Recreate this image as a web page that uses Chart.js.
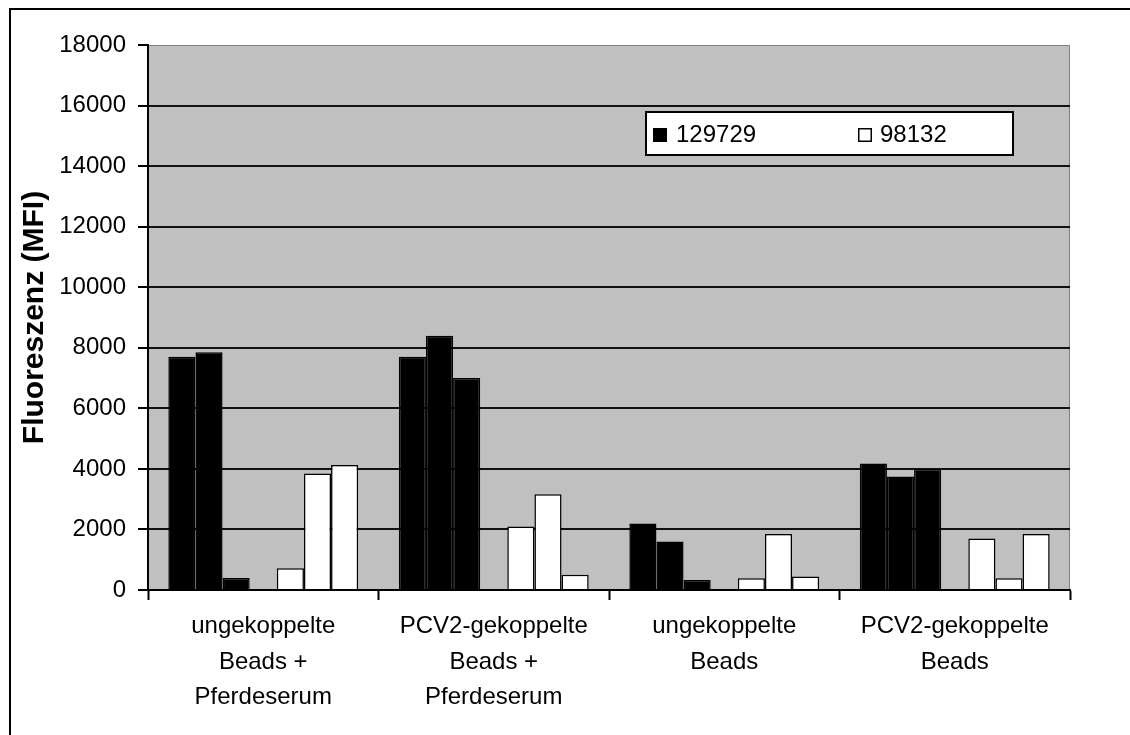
<!DOCTYPE html>
<html>
<head>
<meta charset="utf-8">
<title>Fluoreszenz (MFI)</title>
<script src="https://cdn.jsdelivr.net/npm/chart.js@4.4.1/dist/chart.umd.min.js"></script>
<style>
  html, body { margin: 0; padding: 0; background: #ffffff; }
  canvas { display: block; }
</style>
</head>
<body>
<canvas id="c" width="1130" height="735"></canvas>
<script>
// Categories (multi-line axis labels)
const categories = [
  ['ungekoppelte', 'Beads +', 'Pferdeserum'],
  ['PCV2-gekoppelte', 'Beads +', 'Pferdeserum'],
  ['ungekoppelte', 'Beads'],
  ['PCV2-gekoppelte', 'Beads']
];

// Serum names shown in the legend
const serumA = '129729';
const serumB = '98132';

// Three measurements per serum and category (MFI)
const serumA_1 = [7700, 7700, 2200, 4180];
const serumA_2 = [7850, 8400, 1600, 3750];
const serumA_3 = [400, 7000, 330, 4000];

const serumB_1 = [720, 2100, 385, 1700];
const serumB_2 = [3850, 3160, 1850, 385];
const serumB_3 = [4130, 500, 450, 1850];

// Empty slot separating the two sera inside a group
const spacer = [null, null, null, null];

// Y axis ticks
const yMin = 0;
const yMax = 18000;
const yStep = 2000;

const FONT = '"Liberation Sans", Arial, Helvetica, sans-serif';

function bar(label, values, fill) {
  return {
    label: label,
    data: values,
    backgroundColor: fill,
    borderColor: '#000000',
    borderWidth: 1.5,
    borderSkipped: 'bottom',
    barPercentage: 1.0,
    categoryPercentage: 7 / 8.5
  };
}

const datasets = [
  bar(serumA, serumA_1, '#000000'),
  bar(serumA, serumA_2, '#000000'),
  bar(serumA, serumA_3, '#000000'),
  bar('', spacer, 'rgba(0,0,0,0)'),
  bar(serumB, serumB_1, '#ffffff'),
  bar(serumB, serumB_2, '#ffffff'),
  bar(serumB, serumB_3, '#ffffff')
];

// Grey plot background and outer frame
const backdrop = {
  id: 'backdrop',
  beforeDraw(chart) {
    const { ctx, chartArea: a } = chart;
    ctx.save();
    ctx.fillStyle = '#c0c0c0';
    ctx.fillRect(a.left, a.top, a.right - a.left, a.bottom - a.top);
    ctx.strokeStyle = '#808080';
    ctx.lineWidth = 1;
    ctx.beginPath();
    ctx.moveTo(a.left, a.top + 0.5);
    ctx.lineTo(a.right - 0.5, a.top + 0.5);
    ctx.lineTo(a.right - 0.5, a.bottom);
    ctx.stroke();
    // outer frame
    ctx.strokeStyle = '#000000';
    ctx.lineWidth = 2;
    ctx.beginPath();
    ctx.moveTo(10, chart.height + 5);
    ctx.lineTo(10, 9);
    ctx.lineTo(chart.width + 5, 9);
    ctx.stroke();
    ctx.restore();
  }
};

// Boxed legend with one entry per serum
const boxLegend = {
  id: 'boxLegend',
  afterDraw(chart) {
    const { ctx } = chart;
    const entries = [
      { text: serumA, fill: datasets[0].backgroundColor, x: 653, tx: 676 },
      { text: serumB, fill: datasets[4].backgroundColor, x: 858, tx: 880 }
    ];
    ctx.save();
    ctx.fillStyle = '#ffffff';
    ctx.fillRect(646, 112, 367, 43);
    ctx.strokeStyle = '#000000';
    ctx.lineWidth = 2;
    ctx.strokeRect(646, 112, 367, 43);
    ctx.font = '24px ' + FONT;
    ctx.textBaseline = 'middle';
    ctx.textAlign = 'left';
    entries.forEach(e => {
      ctx.fillStyle = e.fill;
      ctx.fillRect(e.x, 128, 14, 14);
      ctx.lineWidth = 1.5;
      ctx.strokeStyle = '#000000';
      ctx.strokeRect(e.x + 0.75, 128.75, 12.5, 12.5);
      ctx.fillStyle = '#000000';
      ctx.fillText(e.text, e.tx, 135);
    });
    ctx.restore();
  }
};

new Chart(document.getElementById('c'), {
  type: 'bar',
  data: { labels: categories, datasets: datasets },
  plugins: [backdrop, boxLegend],
  options: {
    responsive: false,
    animation: false,
    devicePixelRatio: 1,
    layout: { padding: { top: 45, right: 60, left: 0, bottom: 0 } },
    plugins: {
      legend: { display: false },
      tooltip: { enabled: false },
      title: { display: false }
    },
    scales: {
      x: {
        offset: true,
        grid: {
          offset: true,
          drawOnChartArea: false,
          drawTicks: true,
          tickLength: 10,
          tickColor: '#000000',
          tickWidth: 2
        },
        border: { display: true, color: '#000000', width: 2 },
        ticks: {
          color: '#000000',
          font: { family: FONT, size: 24, lineHeight: 1.48 },
          padding: 9,
          maxRotation: 0,
          minRotation: 0,
          autoSkip: false
        },
        afterFit(scale) { scale.height = 145; }
      },
      y: {
        min: yMin,
        max: yMax,
        ticks: {
          stepSize: yStep,
          color: '#000000',
          font: { family: FONT, size: 24 },
          padding: 12,
          callback: (v) => String(v)
        },
        grid: {
          color: (c) => (c.tick && c.tick.value === yMax) ? 'rgba(0,0,0,0)' : '#111111',
          lineWidth: 2,
          tickColor: '#000000',
          tickLength: 10,
          tickWidth: 2
        },
        border: { display: true, color: '#000000', width: 2 },
        title: {
          display: true,
          text: 'Fluoreszenz (MFI)',
          color: '#000000',
          font: { family: FONT, size: 30, weight: 'bold' },
          padding: { top: 17, bottom: 0 }
        },
        afterFit(scale) { scale.width = 148; }
      }
    }
  }
});
</script>
</body>
</html>
